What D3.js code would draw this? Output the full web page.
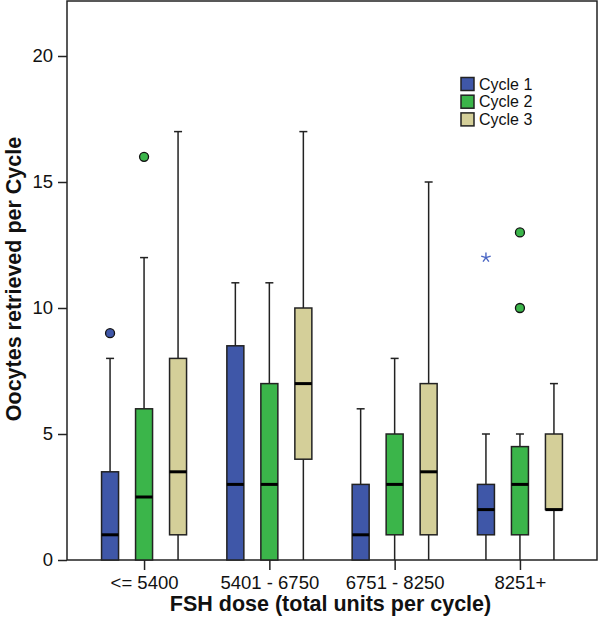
<!DOCTYPE html>
<html>
<head>
<meta charset="utf-8">
<script src="https://cdn.jsdelivr.net/npm/d3@7"></script>
<style>
  html, body { margin: 0; padding: 0; background: #fff; }
  svg { display: block; font-family: "Liberation Sans", Arial, Helvetica, sans-serif; }
</style>
</head>
<body>
<svg id="chart" width="600" height="625"></svg>
<script>
// ---- Data ----
const categories = ["<= 5400", "5401 - 6750", "6751 - 8250", "8251+"];
const cycles = ["Cycle 1", "Cycle 2", "Cycle 3"];
const colors = ["#3F57A8", "#3BB54A", "#D4CF99"];
// per cycle, per category: [whiskerLow, q1, median, q3, whiskerHigh]
const cycle1Stats = [[0, 0, 1, 3.5, 8], [0, 0, 3, 8.5, 11], [0, 0, 1, 3, 6], [0, 1, 2, 3, 5]];
const cycle2Stats = [[0, 0, 2.5, 6, 12], [0, 0, 3, 7, 11], [0, 1, 3, 5, 8], [0, 1, 3, 4.5, 5]];
const cycle3Stats = [[0, 1, 3.5, 8, 17], [0, 4, 7, 10, 17], [0, 1, 3.5, 7, 15], [0, 2, 2, 5, 7]];
// outliers: [categoryIndex, cycleIndex, value]
const outliers = [[0, 0, 9], [0, 1, 16], [3, 1, 13], [3, 1, 10]];
// extremes (star): [categoryIndex, cycleIndex, value]
const extremes = [[3, 0, 12]];
const yTicks = [0, 5, 10, 15, 20];

const stats = [cycle1Stats, cycle2Stats, cycle3Stats];

const svg = d3.select("#chart");
const mLeft = 67, mRight = 597, mBottom = 560, mTop = 1;

const x = d3.scalePoint().domain(categories).range([mLeft, mRight]).padding(0.615);
const sub = d3.scaleBand().domain(cycles).range([-51, 51]).paddingInner(0);
const y = d3.scaleLinear().domain([0, 20]).range([mBottom, 56]);
const boxW = 17;

// frame
svg.append("rect")
  .attr("x", mLeft).attr("y", mTop)
  .attr("width", mRight - mLeft).attr("height", mBottom - mTop)
  .attr("fill", "none").attr("stroke", "#222").attr("stroke-width", 1.5);

// y axis
const yAxis = svg.append("g").attr("transform", `translate(${mLeft},0)`)
  .call(d3.axisLeft(y).tickValues(yTicks).tickSize(9).tickPadding(5).tickFormat(d3.format("d")));
yAxis.select(".domain").remove();
yAxis.selectAll("line").attr("stroke", "#222").attr("stroke-width", 1.5);
yAxis.selectAll("text").attr("font-size", "18.5px").attr("fill", "#111")
  .attr("font-family", "'Liberation Sans', Arial, sans-serif");

// x axis
const xAxis = svg.append("g").attr("transform", `translate(0,${mBottom})`)
  .call(d3.axisBottom(x).tickSize(10).tickPadding(6));
xAxis.select(".domain").remove();
xAxis.selectAll("line").attr("stroke", "#222").attr("stroke-width", 1.5);
xAxis.selectAll("text").attr("font-size", "18.5px").attr("fill", "#111")
  .attr("font-family", "'Liberation Sans', Arial, sans-serif");

// boxes
const plot = svg.append("g");
stats.forEach((cyc, ci) => {
  cyc.forEach((s, ki) => {
    const cx = x(categories[ki]) + sub(cycles[ci]) + sub.bandwidth() / 2;
    const [lo, q1, med, q3, hi] = s;
    const g = plot.append("g");
    // whiskers
    g.append("line").attr("x1", cx).attr("x2", cx).attr("y1", y(q3)).attr("y2", y(hi))
      .attr("stroke", "#222").attr("stroke-width", 1.5);
    g.append("line").attr("x1", cx).attr("x2", cx).attr("y1", y(q1)).attr("y2", y(lo))
      .attr("stroke", "#222").attr("stroke-width", 1.5);
    if (hi > q3) {
      g.append("line").attr("x1", cx - 4).attr("x2", cx + 4).attr("y1", y(hi)).attr("y2", y(hi))
        .attr("stroke", "#222").attr("stroke-width", 1.5);
    }
    if (lo < q1 && lo > 0) {
      g.append("line").attr("x1", cx - 4).attr("x2", cx + 4).attr("y1", y(lo)).attr("y2", y(lo))
        .attr("stroke", "#222").attr("stroke-width", 1.5);
    }
    // box
    g.append("rect").attr("x", cx - boxW / 2).attr("y", y(q3))
      .attr("width", boxW).attr("height", y(q1) - y(q3))
      .attr("fill", colors[ci]).attr("stroke", "#222").attr("stroke-width", 1.5);
    // median
    g.append("line").attr("x1", cx - boxW / 2).attr("x2", cx + boxW / 2)
      .attr("y1", y(med)).attr("y2", y(med))
      .attr("stroke", "#000").attr("stroke-width", 3);
  });
});

// outliers
outliers.forEach(([ki, ci, v]) => {
  const cx = x(categories[ki]) + sub(cycles[ci]) + sub.bandwidth() / 2;
  plot.append("circle").attr("cx", cx).attr("cy", y(v)).attr("r", 4.5)
    .attr("fill", colors[ci]).attr("stroke", "#111").attr("stroke-width", 1.3);
});

// extremes (asterisk)
extremes.forEach(([ki, ci, v]) => {
  const cx = x(categories[ki]) + sub(cycles[ci]) + sub.bandwidth() / 2;
  const cy = y(v);
  const r = 5;
  const g = plot.append("g");
  for (let i = 0; i < 5; i++) {
    const a = -Math.PI / 2 + i * 2 * Math.PI / 5;
    g.append("line").attr("x1", cx).attr("y1", cy)
      .attr("x2", cx + r * Math.cos(a)).attr("y2", cy + r * Math.sin(a))
      .attr("stroke", "#4A66C4").attr("stroke-width", 1.4);
  }
});

// legend
const legend = svg.append("g");
cycles.forEach((c, i) => {
  const ly = 84 + i * 17.7;
  legend.append("rect").attr("x", 461).attr("y", ly - 6.5).attr("width", 13).attr("height", 13)
    .attr("fill", colors[i]).attr("stroke", "#222").attr("stroke-width", 1.5);
  legend.append("text").attr("x", 479).attr("y", ly + 5.6).text(c)
    .attr("font-size", "16px").attr("fill", "#111");
});

// axis titles
svg.append("text").attr("x", (168 + 493) / 2).attr("y", 611)
  .attr("text-anchor", "middle").attr("font-weight", "bold").attr("font-size", "21.5px")
  .attr("fill", "#111").text("FSH dose (total units per cycle)");
svg.append("text").attr("transform", "translate(20.5,279) rotate(-90)")
  .attr("text-anchor", "middle").attr("font-weight", "bold").attr("font-size", "21.5px")
  .attr("fill", "#111").text("Oocytes retrieved per Cycle");
</script>
</body>
</html>
